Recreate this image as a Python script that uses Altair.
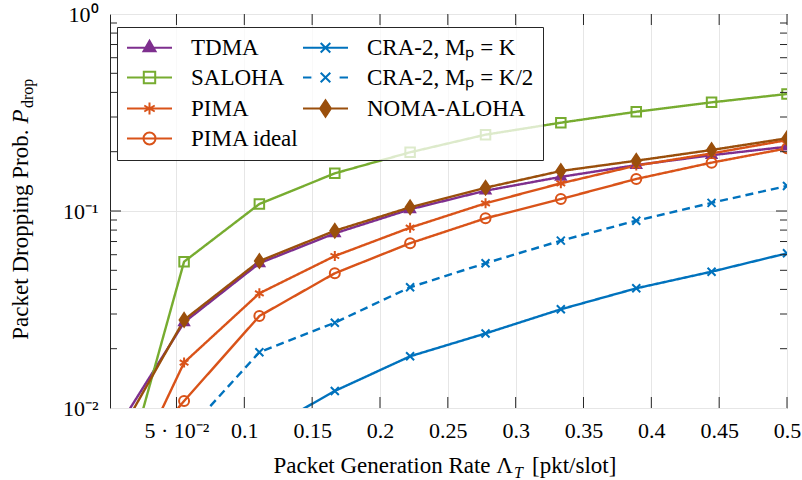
import altair as alt
import pandas as pd

# ---- data -----------------------------------------------------------------
rate = [0.01, 0.0556, 0.1111, 0.1667, 0.2222, 0.2778, 0.3333, 0.3889, 0.4444, 0.5]

tdma       = [0.0086, 0.0272, 0.0543, 0.0770, 0.1020, 0.1268, 0.1490, 0.1710, 0.1920, 0.2120]
saloha     = [0.0041, 0.0553, 0.1085, 0.1553, 0.1986, 0.2440, 0.2807, 0.3190, 0.3560, 0.3926]
pima       = [0.0037, 0.0170, 0.0382, 0.0591, 0.0823, 0.1094, 0.1382, 0.1700, 0.1960, 0.2290]
pima_ideal = [0.0046, 0.01085, 0.0293, 0.0483, 0.0686, 0.0918, 0.1150, 0.1454, 0.1760, 0.2080]
cra_k      = [None, None, 0.0074, 0.0122, 0.0183, 0.0239, 0.0317, 0.0405, 0.0492, 0.0610]
cra_k2     = [None, 0.0073, 0.0192, 0.0271, 0.0410, 0.0543, 0.0707, 0.0893, 0.1100, 0.1340]
noma       = [0.0078, 0.0280, 0.0557, 0.0794, 0.1044, 0.1313, 0.1596, 0.1800, 0.2040, 0.2340]

names = ["TDMA", "SALOHA", "PIMA", "PIMA ideal",
         "CRA-2, Mₚ = K", "CRA-2, Mₚ = K/2", "NOMA-ALOHA"]
values = [tdma, saloha, pima, pima_ideal, cra_k, cra_k2, noma]

x_ticks = [0.05, 0.1, 0.15, 0.2, 0.25, 0.3, 0.35, 0.4, 0.45, 0.5]
y_ticks = [0.01, 0.1, 1.0]
y_minor = [0.02, 0.03, 0.04, 0.05, 0.06, 0.07, 0.08, 0.09,
           0.2, 0.3, 0.4, 0.5, 0.6, 0.7, 0.8, 0.9]

x_title = "Packet Generation Rate Λ"
x_title_sub = "T"
x_title_unit = "[pkt/slot]"
y_title = "Packet Dropping Prob."
y_title_sym = "P"
y_title_sub = "drop"

# ---- styles -----------------------------------------------------------------
colors = ["#7E2F8E", "#77AC30", "#D95319", "#D95319", "#0072BD", "#0072BD", "#9A4F0C"]
dashes = [[1, 0], [1, 0], [1, 0], [1, 0], [1, 0], [8, 5], [1, 0]]
fills = ["#7E2F8E", "transparent", "transparent", "transparent",
         "transparent", "transparent", "#9A4F0C"]

TRI = "M0,-1.15L1,0.58L-1,0.58Z"
SQR = "M-0.95,-0.95L0.95,-0.95L0.95,0.95L-0.95,0.95Z"
AST = "M0,-1L0,1M-0.87,-0.5L0.87,0.5M-0.87,0.5L0.87,-0.5"
CIR = "M1,0A1,1,0,1,1,-1,0A1,1,0,1,1,1,0Z"
XMK = "M-0.8,-0.8L0.8,0.8M-0.8,0.8L0.8,-0.8"
DIA = "M0,-1.35L0.9,0L0,1.35L-0.9,0Z"
markers = [TRI, SQR, AST, CIR, XMK, XMK, DIA]

SOLID_SEG = "M-3.75,0L3.75,0"
DASH_SEG = "M-3.75,0L-2.35,0M2.35,0L3.75,0"
legend_paths = [(DASH_SEG if d[1] else SOLID_SEG) + m for d, m in zip(dashes, markers)]

FONT = "Liberation Serif"
FRAME = "#262626"
W, H = 677, 394

# long table for the series
rows = []
for name, vals in zip(names, values):
    for r, v in zip(rate, vals):
        if v is not None:
            rows.append({"rate": r, "p": v, "series": name})
df = pd.DataFrame(rows)

xs = alt.Scale(domain=[0.001, 0.5], nice=False, zero=False)
ys = alt.Scale(type="log", domain=[0.01, 1], nice=False)

x_axis = alt.Axis(values=x_ticks, title=None, grid=True, ticks=False, domain=False,
                  labelPadding=12, labelFlush=False,
                  labelFont=FONT, labelFontSize=22, labelColor="black",
                  labelExpr="datum.value < 0.07 ? '5 · 10⁻²' : format(datum.value, '.2~f')")
y_axis = alt.Axis(values=y_ticks, title=None, grid=True, ticks=False, domain=False,
                  labelPadding=12,
                  labelFont=FONT, labelFontSize=22, labelColor="black",
                  labelExpr="datum.value > 0.5 ? '10⁰' : (datum.value > 0.05 ? '10⁻¹' : '10⁻²')")

X = alt.X("rate:Q", scale=xs, axis=x_axis)
Y = alt.Y("p:Q", scale=ys, axis=y_axis)

lines = alt.Chart(df).mark_line(clip=True, strokeWidth=2.4).encode(
    x=X, y=Y,
    stroke=alt.Stroke("series:N", scale=alt.Scale(domain=names, range=colors), legend=None),
    strokeDash=alt.StrokeDash("series:N", scale=alt.Scale(domain=names, range=dashes), legend=None),
)

points = alt.Chart(df).mark_point(clip=True, size=100, strokeWidth=2, opacity=1).encode(
    x=X, y=Y,
    shape=alt.Shape("series:N", scale=alt.Scale(domain=names, range=markers), legend=None),
    stroke=alt.Stroke("series:N", scale=alt.Scale(domain=names, range=colors), legend=None),
    fill=alt.Fill("series:N", scale=alt.Scale(domain=names, range=fills), legend=None),
)

# legend: two columns, filled top to bottom
leg = alt.Legend(
    title=None, orient="none", legendX=7, legendY=13, direction="vertical", columns=2,
    symbolSize=144, symbolStrokeWidth=2, symbolOffset=12, symbolOpacity=1,
    labelOffset=30, labelFont=FONT, labelFontSize=23, labelColor="black", labelLimit=400,
    rowPadding=6, columnPadding=0, padding=9,
    fillColor="rgba(255,255,255,0.75)", strokeColor=FRAME,
)
legend_layer = alt.Chart(df).transform_filter("false").mark_point(strokeWidth=2, opacity=1).encode(
    x=X, y=Y,
    shape=alt.Shape("series:N", scale=alt.Scale(domain=names, range=legend_paths), legend=leg),
    stroke=alt.Stroke("series:N", scale=alt.Scale(domain=names, range=colors), legend=leg),
    fill=alt.Fill("series:N", scale=alt.Scale(domain=names, range=fills), legend=leg),
)

# inward ticks on all four sides
xt = pd.DataFrame({"v": x_ticks})
ymaj = pd.DataFrame({"v": [0.1]})
ymin = pd.DataFrame({"v": y_minor})
XT = alt.X("v:Q", scale=xs, axis=x_axis)
YT = alt.Y("v:Q", scale=ys, axis=y_axis)
tick_mark = dict(color=FRAME, strokeWidth=1)
ticks = [
    alt.Chart(xt).mark_rule(**tick_mark).encode(x=XT, y=alt.value(H), y2=alt.value(H - 11)),
    alt.Chart(xt).mark_rule(**tick_mark).encode(x=XT, y=alt.value(0), y2=alt.value(11)),
    alt.Chart(ymaj).mark_rule(**tick_mark).encode(y=YT, x=alt.value(0), x2=alt.value(11)),
    alt.Chart(ymaj).mark_rule(**tick_mark).encode(y=YT, x=alt.value(W), x2=alt.value(W - 11)),
    alt.Chart(ymin).mark_rule(**tick_mark).encode(y=YT, x=alt.value(0), x2=alt.value(7)),
    alt.Chart(ymin).mark_rule(**tick_mark).encode(y=YT, x=alt.value(W), x2=alt.value(W - 7)),
]

# axis titles with sub-scripted symbols
def label(text, x, y, size=23, align="left", angle=0, style="normal"):
    return alt.Chart(pd.DataFrame({"t": [text]})).mark_text(
        font=FONT, fontSize=size, align=align, baseline="alphabetic",
        angle=angle, fontStyle=style, color="black",
    ).encode(x=alt.value(x), y=alt.value(y), text="t:N")

titles = [
    label(x_title, 403, 459, align="right"),
    label(x_title_sub, 404, 464, size=16, style="italic"),
    label(x_title_unit, 422, 459),
    label(y_title, -82, 115.5, align="right", angle=270),
    label(y_title_sym, -82, 109.5, angle=270, style="italic"),
    label(y_title_sub, -77, 94, size=16, angle=270),
]

chart = alt.layer(lines, points, legend_layer, *ticks, *titles).resolve_scale(
    shape="independent", stroke="independent", fill="independent", strokeDash="independent"
).properties(
    width=W, height=H,
    background="white",
    autosize=alt.AutoSizeParams(type="none"),
    padding={"left": 110, "top": 14, "right": 15, "bottom": 72},
).configure_view(
    stroke=FRAME, strokeWidth=1
).configure_axis(
    labelFont=FONT, labelFontSize=22, labelColor="black",
    gridColor="#e6e6e6", gridWidth=1, gridOpacity=1,
)

chart.save("out.html", embed_options={"renderer": "svg", "actions": False})
